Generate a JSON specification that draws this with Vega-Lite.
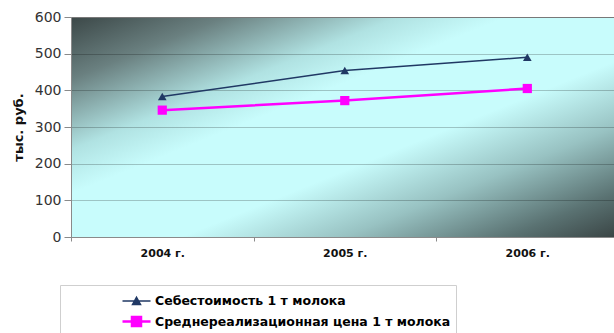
{
  "$schema": "https://vega.github.io/schema/vega-lite/v6.json",
  "width": 543,
  "height": 220,
  "autosize": {"type": "none"},
  "padding": {"left": 71, "top": 17, "right": 0, "bottom": 96},
  "background": "#ffffff",
  "config": {
    "font": "DejaVu Sans",
    "view": {
      "stroke": "#9a9a9a",
      "strokeWidth": 1,
      "fill": {
        "gradient": "linear",
        "x1": 0, "y1": 0, "x2": 1, "y2": 1,
        "stops": [
          {"offset": 0, "color": "#3c4848"},
          {"offset": 0.14, "color": "#6a8080"},
          {"offset": 0.3, "color": "#b0e2e2"},
          {"offset": 0.4, "color": "#c8fcfc"},
          {"offset": 0.6, "color": "#c8fcfc"},
          {"offset": 0.75, "color": "#98c2c2"},
          {"offset": 0.9, "color": "#5a7272"},
          {"offset": 1, "color": "#3a4545"}
        ]
      }
    }
  },
  "data": {
    "values": [
      {"year": 2004, "series": "Себестоимость 1 т молока", "value": 383},
      {"year": 2005, "series": "Себестоимость 1 т молока", "value": 454},
      {"year": 2006, "series": "Себестоимость 1 т молока", "value": 490},
      {"year": 2004, "series": "Среднереализационная цена 1 т молока", "value": 346},
      {"year": 2005, "series": "Среднереализационная цена 1 т молока", "value": 372},
      {"year": 2006, "series": "Среднереализационная цена 1 т молока", "value": 405}
    ]
  },
  "encoding": {
    "y": {
      "field": "value",
      "type": "quantitative",
      "scale": {"domain": [0, 600], "nice": false, "zero": true},
      "axis": {
        "values": [0, 100, 200, 300, 400, 500, 600],
        "title": "тыс. руб.",
        "titleFontSize": 13,
        "titleFontWeight": "bold",
        "titleColor": "#111111",
        "titlePadding": 9,
        "labelFontSize": 14,
        "labelColor": "#333333",
        "labelPadding": 3,
        "tickSize": 7,
        "tickColor": "#8a8a8a",
        "domainColor": "#8a8a8a",
        "grid": true,
        "gridColor": "#000000",
        "gridOpacity": 0.22,
        "gridWidth": 1.2
      }
    }
  },
  "layer": [
    {
      "mark": {"type": "line"},
      "encoding": {
        "x": {
          "field": "year",
          "type": "quantitative",
          "scale": {"domain": [2003.5, 2006.475], "nice": false, "zero": false},
          "axis": {
            "values": [2004, 2005, 2006],
            "format": "d",
            "labelExpr": "datum.label + ' г.'",
            "title": null,
            "ticks": false,
            "grid": false,
            "labelFontSize": 11,
            "labelFontWeight": "bold",
            "labelColor": "#111111",
            "labelPadding": 10,
            "domainColor": "#8a8a8a",
            "orient": "bottom"
          }
        },
        "color": {
          "field": "series",
          "type": "nominal",
          "scale": {
            "domain": ["Себестоимость 1 т молока", "Среднереализационная цена 1 т молока"],
            "range": ["#203864", "#ff00ff"]
          },
          "legend": {
            "orient": "none",
            "legendX": -11,
            "legendY": 268,
            "title": null,
            "symbolSize": 400,
            "symbolOffset": 60,
            "padding": 5,
            "labelOffset": 7,
            "rowPadding": 2,
            "labelFontSize": 12.5,
            "labelFontWeight": "bold",
            "labelColor": "#000000",
            "labelLimit": 500,
            "strokeColor": "#cfcfcf",
            "fillColor": "#ffffff",
            "encode": {
              "symbols": {
                "update": {
                  "shape": {"signal": "datum.index === 0 ? 'M-1.4,0H1.4M-0.4,0.35L0,-0.38L0.4,0.35Z' : 'M-1.4,0H1.4M-0.45,-0.45H0.45V0.45H-0.45Z'"},
                  "fill": {"signal": "datum.index === 0 ? '#203864' : '#ff00ff'"},
                  "stroke": {"signal": "datum.index === 0 ? '#203864' : '#ff00ff'"},
                  "strokeWidth": {"signal": "datum.index === 0 ? 1.5 : 2.5"},
                  "opacity": {"value": 1}
                }
              }
            }
          }
        },
        "strokeWidth": {
          "field": "series",
          "type": "nominal",
          "scale": {
            "domain": ["Себестоимость 1 т молока", "Среднереализационная цена 1 т молока"],
            "range": [1.5, 2.5]
          },
          "legend": null
        }
      }
    },
    {
      "transform": [{"filter": "datum.series === 'Себестоимость 1 т молока'"}],
      "mark": {"type": "point", "filled": true, "opacity": 1, "shape": "triangle-up", "size": 75, "color": "#203864"},
      "encoding": {
        "x": {
          "field": "year",
          "type": "quantitative",
          "scale": {"domain": [2003.5, 2006.475], "nice": false, "zero": false},
          "axis": {
            "values": [2003.5, 2004.5, 2005.5],
            "labels": false,
            "ticks": true,
            "tickSize": 4,
            "tickColor": "#8a8a8a",
            "domain": false,
            "grid": false,
            "title": null,
            "orient": "bottom"
          }
        }
      }
    },
    {
      "transform": [{"filter": "datum.series === 'Среднереализационная цена 1 т молока'"}],
      "mark": {"type": "point", "filled": true, "opacity": 1, "shape": "square", "size": 85, "color": "#ff00ff"},
      "encoding": {
        "x": {
          "field": "year",
          "type": "quantitative",
          "scale": {"domain": [2003.5, 2006.475], "nice": false, "zero": false},
          "axis": null
        }
      }
    }
  ],
  "resolve": {"axis": {"x": "independent"}}
}
